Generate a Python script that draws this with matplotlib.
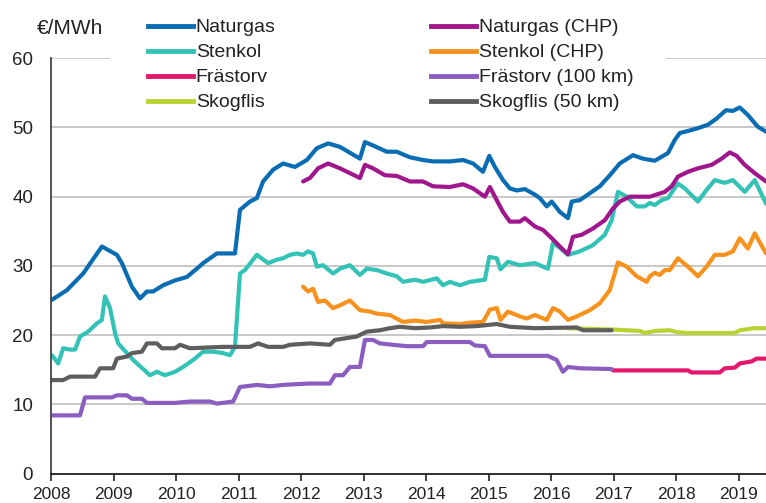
import matplotlib
matplotlib.use('Agg')
import matplotlib.pyplot as plt
from matplotlib.lines import Line2D
from matplotlib.patches import Rectangle

plt.rcParams['font.family'] = ['Liberation Sans', 'DejaVu Sans']

# ---------------- data (decimal year, €/MWh) ----------------
naturgas_t = [2008.01, 2008.25, 2008.51, 2008.81, 2009.05, 2009.13, 2009.29, 2009.42, 2009.53, 2009.63,
              2009.79, 2009.98, 2010.17, 2010.33, 2010.43, 2010.65, 2010.94, 2011.02, 2011.18, 2011.29,
              2011.39, 2011.55, 2011.71, 2011.90, 2012.09, 2012.25, 2012.43, 2012.62, 2012.94, 2013.02,
              2013.15, 2013.37, 2013.53, 2013.74, 2013.95, 2014.11, 2014.38, 2014.59, 2014.75, 2014.91,
              2015.01, 2015.10, 2015.23, 2015.34, 2015.45, 2015.58, 2015.74, 2015.82, 2015.93, 2016.01,
              2016.14, 2016.27, 2016.33, 2016.46, 2016.62, 2016.78, 2016.94, 2017.10, 2017.31, 2017.47,
              2017.66, 2017.87, 2017.98, 2018.06, 2018.19, 2018.35, 2018.51, 2018.65, 2018.80, 2018.91,
              2019.02, 2019.15, 2019.31, 2019.44]
naturgas_v = [25.1, 26.5, 28.9, 32.8, 31.6, 30.4, 27.0, 25.3, 26.3, 26.3,
              27.2, 27.9, 28.4, 29.6, 30.4, 31.8, 31.8, 38.1, 39.3, 39.8,
              42.2, 43.9, 44.8, 44.3, 45.3, 47.0, 47.7, 47.2, 45.5, 47.9,
              47.4, 46.5, 46.5, 45.7, 45.3, 45.1, 45.1, 45.3, 44.8, 43.6,
              45.9, 44.3, 42.4, 41.2, 40.9, 41.1, 40.3, 39.8, 38.6, 39.3,
              37.8, 36.9, 39.3, 39.5, 40.5, 41.5, 43.1, 44.8, 46.0, 45.5,
              45.2, 46.3, 48.2, 49.2, 49.5, 49.9, 50.4, 51.3, 52.5, 52.4,
              52.9, 51.8, 50.1, 49.4]

stenkol_t = [2008.01, 2008.11, 2008.19, 2008.30, 2008.38, 2008.46, 2008.59, 2008.73, 2008.81, 2008.86,
             2008.94, 2009.02, 2009.07, 2009.31, 2009.58, 2009.69, 2009.82, 2009.98, 2010.11, 2010.27,
             2010.43, 2010.59, 2010.75, 2010.86, 2010.94, 2011.02, 2011.10, 2011.29, 2011.47, 2011.61,
             2011.71, 2011.82, 2011.93, 2012.03, 2012.11, 2012.19, 2012.25, 2012.35, 2012.51, 2012.62,
             2012.78, 2012.94, 2013.05, 2013.21, 2013.37, 2013.53, 2013.63, 2013.82, 2013.95, 2014.17,
             2014.27, 2014.38, 2014.54, 2014.70, 2014.94, 2015.01, 2015.13, 2015.19, 2015.31, 2015.50,
             2015.74, 2015.87, 2015.95, 2016.03, 2016.14, 2016.27, 2016.46, 2016.67, 2016.86, 2016.97,
             2017.07, 2017.21, 2017.37, 2017.50, 2017.58, 2017.66, 2017.77, 2017.87, 2018.03, 2018.14,
             2018.35, 2018.49, 2018.62, 2018.78, 2018.91, 2019.10, 2019.26, 2019.44]
stenkol_v = [17.1, 15.9, 18.1, 17.9, 17.9, 19.8, 20.5, 21.7, 22.2, 25.6,
             23.9, 20.3, 18.8, 16.4, 14.2, 14.7, 14.2, 14.7, 15.4, 16.4,
             17.6, 17.6, 17.4, 17.1, 18.3, 28.9, 29.4, 31.6, 30.4, 30.9,
             31.1, 31.6, 31.8, 31.6, 32.1, 31.8, 29.9, 30.1, 28.9, 29.6,
             30.1, 28.7, 29.6, 29.4, 28.9, 28.5, 27.7, 28.0, 27.7, 28.2,
             27.2, 27.7, 27.2, 27.7, 28.0, 31.3, 31.1, 29.5, 30.6, 30.1,
             30.4, 29.9, 29.6, 33.3, 32.6, 31.6, 32.1, 33.0, 34.5, 36.6,
             40.7, 40.0, 38.6, 38.6, 39.1, 38.8, 39.5, 39.8, 41.9, 41.2,
             39.3, 41.0, 42.4, 42.0, 42.4, 40.7, 42.4, 39.0]

frastorv_t = [2016.99, 2018.19, 2018.25, 2018.70, 2018.78, 2018.94, 2019.02, 2019.21, 2019.29, 2019.44]
frastorv_v = [14.9, 14.9, 14.6, 14.6, 15.2, 15.3, 15.9, 16.2, 16.6, 16.6]

skogflis_t = [2016.25, 2016.99, 2017.42, 2017.50, 2017.66, 2017.90, 2018.03, 2018.19, 2018.94, 2019.02,
              2019.26, 2019.44]
skogflis_v = [21.0, 20.8, 20.6, 20.3, 20.6, 20.7, 20.4, 20.3, 20.3, 20.7,
              21.0, 21.0]

naturgas_chp_t = [2012.03, 2012.14, 2012.27, 2012.43, 2012.62, 2012.94, 2013.02, 2013.15, 2013.34, 2013.53,
                  2013.74, 2013.95, 2014.11, 2014.38, 2014.59, 2014.75, 2014.94, 2015.02, 2015.13, 2015.23,
                  2015.34, 2015.50, 2015.58, 2015.74, 2015.87, 2016.01, 2016.14, 2016.27, 2016.35, 2016.49,
                  2016.67, 2016.86, 2016.99, 2017.10, 2017.26, 2017.42, 2017.58, 2017.82, 2017.93, 2018.03,
                  2018.19, 2018.35, 2018.57, 2018.73, 2018.86, 2018.97, 2019.10, 2019.26, 2019.44]
naturgas_chp_v = [42.2, 42.7, 44.1, 44.8, 44.1, 42.7, 44.6, 44.1, 43.1, 43.0,
                  42.2, 42.2, 41.5, 41.4, 41.8, 41.2, 40.0, 41.4, 39.5, 37.8,
                  36.4, 36.4, 36.9, 35.7, 35.2, 34.0, 32.8, 31.7, 34.2, 34.5,
                  35.4, 36.6, 38.3, 39.3, 40.0, 40.0, 40.0, 40.7, 41.5, 42.9,
                  43.6, 44.1, 44.6, 45.5, 46.4, 45.9, 44.6, 43.4, 42.2]

stenkol_chp_t = [2012.03, 2012.11, 2012.19, 2012.27, 2012.38, 2012.51, 2012.62, 2012.78, 2012.94, 2013.10,
                 2013.21, 2013.42, 2013.63, 2013.82, 2014.01, 2014.22, 2014.27, 2014.54, 2014.70, 2014.91,
                 2015.02, 2015.13, 2015.19, 2015.31, 2015.50, 2015.61, 2015.74, 2015.93, 2016.03, 2016.14,
                 2016.27, 2016.41, 2016.62, 2016.78, 2016.94, 2017.07, 2017.21, 2017.37, 2017.53, 2017.58,
                 2017.66, 2017.74, 2017.82, 2017.90, 2018.03, 2018.19, 2018.35, 2018.49, 2018.62, 2018.78,
                 2018.91, 2019.02, 2019.15, 2019.26, 2019.44]
stenkol_chp_v = [27.0, 26.3, 26.7, 24.8, 25.0, 23.9, 24.3, 25.0, 23.6, 23.4,
                 23.1, 22.9, 21.9, 22.1, 21.9, 22.2, 21.7, 21.6, 21.8, 21.9,
                 23.7, 23.9, 22.2, 23.4, 22.7, 22.4, 22.9, 22.2, 23.9, 23.4,
                 22.2, 22.7, 23.6, 24.6, 26.5, 30.5, 29.9, 28.5, 27.7, 28.5,
                 29.0, 28.7, 29.4, 29.4, 31.1, 29.9, 28.5, 29.9, 31.6, 31.6,
                 32.1, 34.0, 32.5, 34.7, 31.8]

frastorv100_t = [2008.01, 2008.46, 2008.54, 2008.97, 2009.05, 2009.21, 2009.29, 2009.45, 2009.53, 2009.98,
                 2010.22, 2010.54, 2010.65, 2010.91, 2011.02, 2011.29, 2011.50, 2011.71, 2011.90, 2012.14,
                 2012.46, 2012.54, 2012.67, 2012.78, 2012.94, 2013.02, 2013.15, 2013.26, 2013.47, 2013.69,
                 2013.95, 2014.01, 2014.70, 2014.78, 2014.94, 2015.02, 2015.95, 2016.09, 2016.19, 2016.27,
                 2016.46, 2016.97]
frastorv100_v = [8.4, 8.4, 11.0, 11.0, 11.3, 11.3, 10.8, 10.8, 10.2, 10.2,
                 10.4, 10.4, 10.1, 10.4, 12.5, 12.8, 12.6, 12.8, 12.9, 13.0,
                 13.0, 14.2, 14.2, 15.4, 15.4, 19.3, 19.3, 18.8, 18.6, 18.4,
                 18.4, 19.0, 19.0, 18.5, 18.4, 17.0, 17.0, 16.4, 14.7, 15.4,
                 15.2, 15.1]

skogflis50_t = [2008.01, 2008.19, 2008.30, 2008.70, 2008.78, 2008.99, 2009.05, 2009.21, 2009.29, 2009.45,
                2009.53, 2009.69, 2009.77, 2009.98, 2010.06, 2010.22, 2010.75, 2011.18, 2011.31, 2011.47,
                2011.71, 2011.82, 2012.14, 2012.46, 2012.54, 2012.89, 2013.05, 2013.26, 2013.42, 2013.58,
                2013.82, 2014.06, 2014.27, 2014.54, 2014.81, 2015.13, 2015.34, 2015.74, 2016.41, 2016.51,
                2016.97]
skogflis50_v = [13.5, 13.5, 14.0, 14.0, 15.2, 15.2, 16.6, 16.9, 17.4, 17.6,
                18.8, 18.8, 18.1, 18.1, 18.6, 18.1, 18.3, 18.3, 18.8, 18.3,
                18.3, 18.6, 18.8, 18.6, 19.3, 19.8, 20.5, 20.7, 21.0, 21.2,
                21.0, 21.1, 21.3, 21.2, 21.3, 21.6, 21.2, 21.0, 21.1, 20.7,
                20.7]

series = [
    ("Naturgas", naturgas_t, naturgas_v, "#0a6db3"),
    ("Stenkol", stenkol_t, stenkol_v, "#33c2b6"),
    ("Frästorv", frastorv_t, frastorv_v, "#e5176c"),
    ("Skogflis", skogflis_t, skogflis_v, "#b8d433"),
    ("Naturgas (CHP)", naturgas_chp_t, naturgas_chp_v, "#a0168d"),
    ("Stenkol (CHP)", stenkol_chp_t, stenkol_chp_v, "#f7921e"),
    ("Frästorv (100 km)", frastorv100_t, frastorv100_v, "#8b5dc0"),
    ("Skogflis (50 km)", skogflis50_t, skogflis50_v, "#5e5e5e"),
]
year_ticks = list(range(2008, 2020))
y_ticks = [0, 10, 20, 30, 40, 50, 60]

# ---------------- figure ----------------
W, H = 766, 503
fig = plt.figure(figsize=(W / 100, H / 100), dpi=100)
x0, x1 = 51.3, 766
y0, y1 = 473.5, 58.3
ax = fig.add_axes([x0 / W, (H - y0) / H, (x1 - x0) / W, (y0 - y1) / H])

handles = []
for name, t, v, c in series:
    ax.plot(t, v, color=c, lw=3.0, solid_capstyle='round', solid_joinstyle='round', label=name)
    handles.append(Line2D([], [], color=c, lw=3.5))

ax.set_xlim(2008, 2019.44)
ax.set_ylim(0, 60)
ax.set_xticks(year_ticks)
ax.set_xticklabels([str(y) for y in year_ticks])
ax.set_yticks(y_ticks)
ax.grid(axis='y', color='#c4c4c4', lw=1.3)
ax.set_axisbelow(True)
for s in ['top', 'right']:
    ax.spines[s].set_visible(False)
ax.spines['left'].set_color('#444444')
ax.spines['bottom'].set_color('#222222')
ax.spines['left'].set_linewidth(1.3)
ax.spines['bottom'].set_linewidth(1.3)
ax.tick_params(axis='x', length=5, width=1.2, pad=5, labelsize=12.5, colors='#222222')
ax.tick_params(axis='y', length=0, pad=13, labelsize=13.5, colors='#222222')

fig.text(70 / W, 1 - 29 / H, "€/MWh", fontsize=15, ha='center', va='center', color='#222222')

# white band behind the legend (hides the top grid line there, as in the original)
fig.patches.append(Rectangle((110 / W, 1 - 66 / H), (666 - 110) / W, 14 / H,
                             transform=fig.transFigure, facecolor='white', edgecolor='none', zorder=1))

fs = 14
fs_px = fs * 100 / 72
bp = 0.3
leg = fig.legend(handles, [s[0] for s in series], ncol=2, loc='upper left',
                 bbox_to_anchor=((148 - bp * fs_px) / W, 1 - 13 / H), fontsize=fs, frameon=True,
                 facecolor='white', edgecolor='none', framealpha=1, fancybox=False,
                 handlelength=2.3, handletextpad=0.15, columnspacing=8.0,
                 labelspacing=0.38, borderpad=bp, borderaxespad=0)
leg.set_zorder(2)
for t in leg.get_texts():
    t.set_color('#222222')

fig.savefig('out.png', dpi=100)
